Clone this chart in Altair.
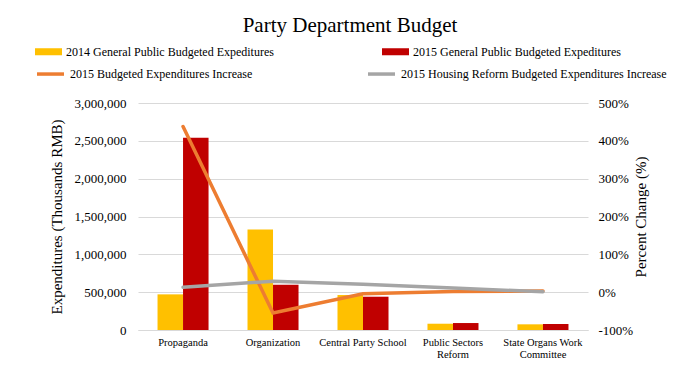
import altair as alt
import pandas as pd

categories = ["Propaganda", "Organization", "Central Party School",
              "Public Sectors\nReform", "State Organs Work\nCommittee"]
budget_2014 = [471000, 1328000, 462000, 83000, 75000]
budget_2015 = [2542000, 598000, 440000, 92000, 79000]
increase_2015 = [438, -55, -4, 2, 3]
housing_increase_2015 = [13, 29, 21, 11, 1]

bar_series = ["2014 General Public Budgeted Expeditures",
              "2015 General Public Budgeted Expeditures"]
line_series = ["2015 Budgeted Expenditures Increase",
               "2015 Housing Reform Budgeted Expenditures Increase"]

bar_colors = ["#FFC000", "#C00000"]
line_colors = ["#ED7D31", "#A5A5A5"]

FONT = "Liberation Serif"

bars_df = pd.DataFrame(
    [{"category": c, "series": bar_series[0], "value": v} for c, v in zip(categories, budget_2014)]
    + [{"category": c, "series": bar_series[1], "value": v} for c, v in zip(categories, budget_2015)]
)
lines_df = pd.DataFrame(
    [{"category": c, "series": line_series[0], "pct": v} for c, v in zip(categories, increase_2015)]
    + [{"category": c, "series": line_series[1], "pct": v} for c, v in zip(categories, housing_increase_2015)]
)

x_enc = alt.X(
    "category:N", sort=categories,
    scale=alt.Scale(paddingInner=0.433, paddingOuter=0.217),
    axis=alt.Axis(title=None, labelAngle=0, labelExpr="split(datum.label, '\\n')",
                  labelFont=FONT, labelFontSize=10.5, labelColor="#000000",
                  labelPadding=7, ticks=False, domainColor="#d9d9d9", domainWidth=1,
                  grid=False, labelLineHeight=12, labelOverlap=False),
)

bars = alt.Chart(bars_df).mark_bar().encode(
    x=x_enc,
    xOffset=alt.XOffset("series:N", sort=bar_series, scale=alt.Scale(paddingInner=0)),
    y=alt.Y("value:Q", scale=alt.Scale(domain=[0, 3000000], nice=False),
            axis=alt.Axis(title="Expenditures (Thousands RMB)", format=",.0f",
                          values=[0, 500000, 1000000, 1500000, 2000000, 2500000, 3000000],
                          labelFont=FONT, labelFontSize=13, labelColor="#000000",
                          labelOverlap=False,
                          titleFont=FONT, titleFontSize=15, titleFontWeight="normal",
                          titleColor="#000000", titlePadding=10,
                          ticks=False, domain=False, labelPadding=12,
                          gridColor="#d9d9d9", gridWidth=1)),
    color=alt.Color("series:N", scale=alt.Scale(domain=bar_series, range=bar_colors),
                    legend=alt.Legend(title=None, orient="none", legendX=-103, legendY=-65,
                                      columns=2, columnPadding=108,
                                      symbolType="M-1,-0.26H1V0.26H-1Z", symbolSize=729,
                                      symbolStrokeWidth=0, symbolOffset=0,
                                      labelFont=FONT, labelFontSize=12, labelColor="#000000",
                                      labelLimit=400)),
)

lines = alt.Chart(lines_df).mark_line(strokeWidth=3.5, strokeCap="round").encode(
    x=x_enc,
    y=alt.Y("pct:Q", scale=alt.Scale(domain=[-100, 500], nice=False),
            axis=alt.Axis(title="Percent Change (%)", orient="right",
                          values=[-100, 0, 100, 200, 300, 400, 500],
                          labelExpr="datum.value + '%'", labelOverlap=False,
                          labelFont=FONT, labelFontSize=13, labelColor="#000000",
                          titleFont=FONT, titleFontSize=15, titleFontWeight="normal",
                          titleColor="#000000", titleAngle=270, titlePadding=16,
                          ticks=False, domain=False, grid=False, labelPadding=10)),
    stroke=alt.Stroke("series:N", scale=alt.Scale(domain=line_series, range=line_colors),
                      legend=alt.Legend(title=None, orient="none", legendX=-103, legendY=-44.7,
                                        columns=2, columnPadding=108,
                                        symbolType="stroke", symbolSize=729,
                                        symbolStrokeWidth=3.5, symbolOffset=0,
                                        labelFont=FONT, labelFontSize=12, labelColor="#000000",
                                        labelLimit=400)),
)

chart = alt.layer(bars, lines).resolve_scale(
    y="independent", color="independent"
).properties(
    width=450, height=227,
    title=alt.Title("Party Department Budget", font=FONT, fontSize=21,
                    fontWeight="normal", color="#000000", anchor="middle", dx=-13, offset=2),
    autosize=alt.AutoSizeParams(type="none"),
    padding={"left": 130, "top": 95, "right": 104, "bottom": 31},
).configure_view(stroke=None)

chart.save("out.html", embed_options={"renderer": "svg", "actions": False})
